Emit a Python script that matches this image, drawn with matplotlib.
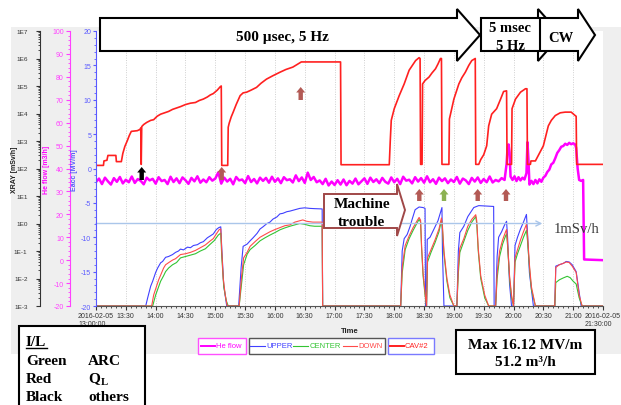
import numpy as np
import matplotlib
matplotlib.use('Agg')
import matplotlib.pyplot as plt
import matplotlib.dates as mdates
from matplotlib.patches import Polygon, Rectangle
from matplotlib.lines import Line2D
from matplotlib.ticker import MultipleLocator, LogLocator, NullFormatter

plt.rcParams['font.family'] = ['Liberation Sans', 'DejaVu Sans']

# ---------------- data ----------------
start_time = '2016-02-05T13:00'
span_minutes = 510

xtick_minutes = list(range(0, 511, 30))
xtick_labels = ['2016-02-05\n13:00:00', '13:30', '14:00', '14:30', '15:00', '15:30', '16:00',
                '16:30', '17:00', '17:30', '18:00', '18:30', '19:00', '19:30', '20:00', '20:30',
                '21:00', '2016-02-05\n21:30:00']

xray_ticks = [1e-3, 1e-2, 1e-1, 1e0, 1e1, 1e2, 1e3, 1e4, 1e5, 1e6, 1e7]
xray_tick_labels = ['1E-3', '1E-2', '1E-1', '1E0', '1E1', '1E2', '1E3', '1E4', '1E5', '1E6', '1E7']
he_ticks = list(range(-20, 101, 10))
eacc_ticks = list(range(-20, 21, 5))

# CAV#2 accelerating field (minutes after 13:00, MV/m)
cav2_eacc = [(0, 0.45), (7.5, 0.45), (8, 1.1), (11, 1.2), (12, 1.9), (20, 1.9), (20.5, 1.0), (25.5, 1.0),
             (27, 2.2), (29, 3.2), (31.5, 4.05), (33.5, 4.8), (35.5, 5.4), (41.5, 5.5), (44.5, 5.7),
             (45, 5.9), (45.5, 0.6), (46, 6.1), (48, 6.4), (51, 6.7), (55, 7.0), (58, 7.1), (61.5, 7.6),
             (65, 7.9), (69, 8.1), (73, 8.3), (77, 8.6), (81, 8.8), (85, 9.0), (90, 9.3), (95, 9.5),
             (100, 9.6), (104, 9.9), (108, 10.1), (112, 10.4), (115, 10.7), (118, 10.9), (122, 11.4),
             (125, 11.9), (126, 12.0), (126.5, 0.45), (132.5, 0.45), (133, 6.0), (134, 6.6), (136, 7.5),
             (138, 8.2), (141, 9.3), (145, 10.6), (148, 11.0), (151.5, 11.1), (156, 11.4), (161.5, 11.8),
             (166, 12.4), (171.5, 13.0), (178, 13.5), (185, 14.0), (191, 14.4), (198, 14.75), (202, 15.1),
             (206.5, 15.5), (246, 15.5), (246.5, 0.55), (295, 0.55), (296, 4.0), (297, 7.0), (300, 8.7),
             (305, 10.6), (310, 12.3), (315, 14.3), (321.5, 15.7), (325, 16.12), (326, 16.0), (326.5, 0.6),
             (328, 0.6), (328.5, 12.3), (331, 12.8), (335, 13.3), (338, 13.9), (341.5, 14.5), (344, 15.2),
             (346.5, 16.0), (347.5, 16.0), (348, 0.6), (355, 0.6), (355.5, 7.2), (358, 8.8), (360, 10.1),
             (365, 12.3), (368, 13.2), (371.5, 14.0), (375, 15.0), (378, 15.7), (381.5, 16.0), (382, 0.6),
             (385, 0.6), (387, 1.3), (390, 2.0), (393, 3.3), (395, 6.2), (398, 7.9), (403, 8.7), (407, 10.1),
             (410, 11.2), (413, 11.3), (413.5, 0.6), (418, 0.6), (418.5, 8.7), (422, 10.1), (427, 11.1),
             (432, 11.6), (433.5, 11.6), (434, 0.6), (437, 0.6), (437.5, 1.1), (442, 1.1), (446, 2.2),
             (450, 3.3), (455, 6.2), (458, 7.0), (462, 7.7), (467, 8.1), (472, 8.2), (478, 8.2), (482, 7.7),
             (483, 7.6), (483.5, 0.6), (510, 0.6)]

# He flow (m3/h): 3-minute readings 13:00-19:48, then individual readings
he_flow_3min = [
    34.1, 35.6, 33.2, 36.0, 34.4, 33.0, 35.8, 34.2, 36.3, 33.5, 35.1, 34.0, 36.5, 33.7, 35.4, 34.6, 33.1, 36.0, 34.8, 35.5,
    33.4, 36.2, 34.5, 35.0, 33.2, 36.4, 34.1, 35.7, 33.6, 36.1, 34.9, 33.3, 35.9, 34.4, 36.6, 33.8, 35.2, 34.0, 36.2, 34.7,
    35.6, 38.3, 33.4, 36.0, 34.3, 35.5, 33.1, 36.3, 34.8, 35.2, 33.6, 36.7, 34.1, 35.4, 33.5, 36.0, 34.6, 35.9, 33.8, 36.4,
    34.2, 35.7, 33.6, 36.2, 34.9, 35.3, 33.9, 37.0, 34.5, 36.1, 33.7, 38.2, 35.0, 36.3, 34.0, 34.8, 33.2, 35.5, 32.6, 34.3,
    32.8, 34.9, 33.0, 35.2, 32.7, 34.6, 33.4, 35.6, 33.1, 34.4, 35.7, 33.3, 36.0, 34.1, 35.3, 33.6, 35.9, 34.2, 33.4, 36.1,
    34.0, 35.5, 33.2, 36.4, 34.7, 35.1, 33.5, 36.2, 34.3, 35.8, 33.8, 36.6, 34.0, 35.3, 33.3, 36.0, 34.5, 35.7, 33.6, 35.2,
    34.1, 36.3, 33.4, 35.6, 34.8, 33.2, 35.9, 34.3, 36.1, 33.7, 35.4, 34.0, 36.5, 33.9, 35.0, 34.4, 35.8]
he_flow_late = [(411, 35.0), (413, 42), (414, 49), (415, 50.5), (416, 47), (417, 36.5), (419, 35.0), (421, 36.6),
                (423, 34.5), (425, 36.2), (427, 34.8), (429, 36.0), (431, 35.2), (433, 38.0), (434, 51.5),
                (435, 44), (436, 33.0), (438, 34.6), (440, 33.2), (442, 35.0), (444, 33.5), (446, 35.3),
                (448, 34.2), (450, 36.0), (452, 36.8), (454, 38.5), (456, 39.5), (458, 41.8), (460, 42.5),
                (462, 44.5), (464, 46.8), (466, 48.0), (468, 49.5), (470, 49.8), (472, 50.8), (474, 50.3),
                (476, 51.2), (478, 50.6), (480, 51.0), (482, 50.5), (483, 49), (484.5, 40), (486, 35),
                (488, 34.6), (490, 35.0), (491, 0.3), (510, 0.0)]

# X-ray detectors, log10(mSv/h)
xray_upper = [(0, -3), (50, -3), (52, -2.7), (55, -2.28), (57, -2.1), (60, -1.78), (62, -1.62), (65, -1.43),
              (67, -1.38), (70, -1.23), (73, -1.2), (77, -1.13), (80, -1.05), (83, -1.0), (85, -0.93),
              (88, -0.96), (92, -0.86), (95, -0.88), (98, -0.8), (102, -0.77), (105, -0.7), (108, -0.66),
              (112, -0.52), (115, -0.45), (118, -0.38), (121, -0.22), (123.5, -0.15), (125.5, -0.12),
              (126.5, -0.9), (128.5, -2.25), (131.5, -3), (143.5, -3), (146, -1.6), (148, -0.83),
              (152, -0.75), (155, -0.63), (158, -0.52), (162, -0.36), (165, -0.2), (168, -0.12), (172, 0.0),
              (175, 0.05), (178, 0.16), (182, 0.24), (185, 0.35), (188, 0.37), (192, 0.43), (195, 0.45),
              (200, 0.5), (205, 0.55), (210, 0.57), (215, 0.55), (220, 0.54), (227.5, 0.53), (228, -3),
              (306.5, -3), (308, -1.0), (310, -0.55), (313, -0.4), (316, -0.1), (318, 0.15), (321, 0.5),
              (325, 0.6), (329, 0.58), (331, 0.55), (331.5, -3),
              (332.5, -3), (333.2, -0.58), (336, -0.5), (340, -0.2), (344, 0.1), (348, 0.58), (348.5, -1.0),
              (350, -3),
              (363, -3), (364.5, -1.0), (366, -0.33), (370, -0.1), (374, 0.25), (380, 0.58), (385, 0.65),
              (395, 0.63), (400, 0.62), (400.5, -3),
              (402, -3), (403.5, -1.2), (405, -0.5), (408, -0.3), (411, -0.05), (413, 0.08), (414, -0.5),
              (416, -2.2), (418, -3),
              (420, -3), (421.5, -0.8), (424, -0.5), (427, -0.2), (430, 0.05), (433, 0.33), (434, -0.3),
              (436, -1.8), (440, -3),
              (461.5, -3), (462.5, -1.55), (466, -1.5), (470, -1.45), (473, -1.38), (476, -1.4), (479, -1.5),
              (483, -1.75), (486, -2.5), (488, -3), (510, -3)]
xray_center = [(0, -3), (57, -3), (60, -2.6), (63, -2.3), (65, -2.1), (68, -1.9), (70, -1.75), (73, -1.62),
               (77, -1.5), (81, -1.42), (85, -1.25), (90, -1.2), (95, -1.15), (100, -1.1), (105, -1.0),
               (110, -0.92), (115, -0.75), (119, -0.62), (123, -0.42), (125.5, -0.35), (126.5, -1.2),
               (128.5, -2.3), (131, -2.8), (133, -3),
               (144, -3), (147, -2.0), (148.5, -1.5), (152, -1.12), (155, -0.95), (160, -0.8), (165, -0.63),
               (170, -0.52), (175, -0.42), (180, -0.33), (185, -0.23), (190, -0.16), (195, -0.1), (200, -0.05),
               (205, 0.0), (210, -0.03), (215, -0.08), (220, -0.1), (227.5, -0.1), (228, -3),
               (306.5, -3), (308, -1.8), (311, -0.95), (315, -0.55), (319, -0.25), (323, 0.02), (325, 0.15),
               (326.5, 0.05), (327.5, -0.9), (329, -1.9), (331, -2.6), (332.5, -3),
               (333.5, -1.4), (337, -1.05), (341, -0.7), (345, -0.3), (347.5, 0.12), (348.5, -0.2),
               (350, -1.1), (353, -2.1), (356, -2.7), (360, -3),
               (363, -3), (364.5, -1.8), (366, -1.05), (370, -0.65), (374, -0.25), (378, 0.05), (382, 0.25),
               (383, 0.0), (384.5, -1.0), (387, -2.0), (391, -2.7), (395, -3),
               (402, -3), (403.5, -2.0), (406, -1.2), (409, -0.75), (412, -0.45), (413, -0.38), (414, -0.8),
               (416, -2.0), (418, -2.7), (420, -3),
               (421.5, -1.4), (424, -1.1), (427, -0.8), (430, -0.5), (433, -0.25), (434, -0.6), (436, -1.6),
               (438, -2.4), (442, -3),
               (461.5, -3), (462.5, -2.15), (466, -2.05), (470, -1.98), (474, -1.92), (477, -1.97),
               (480, -2.1), (483, -2.2), (486, -2.7), (489, -3), (510, -3)]
xray_down = [(0, -3), (56, -3), (58, -2.6), (60, -2.38), (63, -2.05), (65, -1.88), (68, -1.62), (70, -1.5),
             (74, -1.4), (77, -1.33), (80, -1.28), (85, -1.13), (90, -1.1), (95, -1.05), (100, -0.98),
             (105, -0.88), (110, -0.78), (115, -0.63), (118, -0.55), (121, -0.38), (124, -0.22),
             (125.5, -0.2), (126.5, -1.0), (128, -2.0), (130, -2.6), (132, -3),
             (144, -3), (146.5, -1.9), (148.5, -1.25), (152, -1.05), (155, -0.83), (160, -0.66), (165, -0.5),
             (170, -0.4), (175, -0.3), (180, -0.22), (185, -0.15), (190, -0.08), (195, -0.05), (200, 0.05),
             (205, 0.1), (208, 0.13), (212, 0.08), (218, 0.05), (227.5, 0.05), (228, -3),
             (306.5, -3), (308, -1.6), (311, -0.8), (315, -0.45), (319, -0.15), (323, 0.1), (325, 0.22),
             (326.5, 0.12), (327.5, -0.8), (329, -1.8), (331, -2.5), (332.5, -3),
             (333.5, -1.25), (337, -0.95), (341, -0.6), (345, -0.2), (347.5, 0.2), (348.5, -0.1),
             (350, -1.0), (353, -2.0), (356, -2.6), (360, -3),
             (363, -3), (364.5, -1.6), (366, -0.9), (370, -0.55), (374, -0.1), (378, 0.15), (382, 0.32),
             (383, 0.1), (384.5, -0.9), (387, -1.9), (391, -2.6), (395, -3),
             (402, -3), (403.5, -1.8), (406, -1.0), (409, -0.6), (412, -0.3), (413, -0.22), (414, -0.7),
             (416, -1.9), (418, -2.6), (420, -3),
             (421.5, -1.25), (424, -0.95), (427, -0.6), (430, -0.3), (433, -0.03), (434, -0.4), (436, -1.5),
             (438, -2.3), (442, -3),
             (461.5, -3), (462.5, -1.6), (466, -1.5), (470, -1.45), (473, -1.4), (476, -1.42), (479, -1.55),
             (483, -1.78), (486, -2.6), (489, -3), (510, -3)]

limit_line_msvh = 1.0
limit_line_end_min = 449

# ---------------- helpers ----------------
W, H = 621, 406


def fx(x):
    return x / W


def fy(y):
    return 1 - y / H


def to_num(mins):
    t = np.datetime64(start_time) + (np.asarray(mins, float) * 60).astype('timedelta64[s]')
    return mdates.date2num(t)


def split(pairs):
    a = np.array(pairs, float)
    return a[:, 0], a[:, 1]


C_CAV = '#ff2020'
C_HE = '#ff00ff'
C_UP = '#4040ff'
C_CEN = '#33c433'
C_DOWN = '#ff4a4a'
C_EAXIS = '#5a5aff'
C_HEAXIS = '#ff40ff'
TICKFONT = ['Liberation Sans Narrow', 'Liberation Sans', 'DejaVu Sans']

fig = plt.figure(figsize=(W / 100, H / 100), dpi=100)
fig.add_artist(Rectangle((fx(11), fy(355)), fx(621) - fx(11), fy(28) - fy(355), transform=fig.transFigure,
                         facecolor='#efefef', edgecolor='none', zorder=-10))

rect = [fx(96), fy(307), fx(603) - fx(96), fy(32) - fy(307)]
ax_x = fig.add_axes(rect)
ax_he = fig.add_axes(rect, sharex=ax_x)
ax_e = fig.add_axes(rect, sharex=ax_x)
ax_x.set_facecolor('white')
for a in (ax_he, ax_e):
    a.patch.set_visible(False)

# X-ray curves
for pairs, col in ((xray_upper, C_UP), (xray_center, C_CEN), (xray_down, C_DOWN)):
    t, v = split(pairs)
    ax_x.plot(to_num(t), 10.0 ** v, color=col, lw=0.8)
ax_x.annotate('', xy=(to_num(limit_line_end_min), limit_line_msvh), xytext=(to_num(0), limit_line_msvh),
              arrowprops=dict(arrowstyle='->', color='#aac6ea', lw=1.0, shrinkA=0, shrinkB=0,
                              mutation_scale=9))
ax_x.set_yscale('log')
ax_x.set_ylim(1e-3, 1e7)
ax_x.set_xlim(to_num(0), to_num(span_minutes))

# He flow
t_he = np.arange(len(he_flow_3min)) * 3
t_late, v_late = split(he_flow_late)
ax_he.plot(to_num(np.concatenate([t_he, t_late])), np.concatenate([he_flow_3min, v_late]),
           color=C_HE, lw=1.8)
ax_he.set_ylim(-20, 100)

# CAV#2
t_c, v_c = split(cav2_eacc)
ax_e.plot(to_num(t_c), v_c, color=C_CAV, lw=1.2)
ax_e.set_ylim(-20, 20)

# ---- axis styling ----
for a in (ax_x, ax_he, ax_e):
    a.spines['top'].set_visible(False)
    a.spines['right'].set_visible(False)
for a in (ax_he, ax_e):
    a.spines['bottom'].set_visible(False)
    a.tick_params(axis='x', which='both', bottom=False, labelbottom=False)

ax_x.spines['left'].set_position(('outward', 56 * 0.72))
ax_x.spines['left'].set_color('#333333')
ax_x.spines['bottom'].set_color('#555555')
ax_x.set_yticks(xray_ticks)
ax_x.set_yticklabels(xray_tick_labels, family=TICKFONT)
ax_x.yaxis.set_minor_locator(LogLocator(base=10, subs=np.arange(2, 10), numticks=20))
ax_x.yaxis.set_minor_formatter(NullFormatter())
ax_x.tick_params(axis='y', which='major', length=3, pad=6.0, labelsize=4.6, colors='#333333')
ax_x.tick_params(axis='y', which='minor', length=1.6, colors='#333333')

ax_x.set_xticks(to_num(xtick_minutes))
ax_x.set_xticklabels(xtick_labels, family=TICKFONT)
ax_x.xaxis.set_minor_locator(matplotlib.ticker.FixedLocator(to_num(np.arange(0, 511, 5))))
ax_x.tick_params(axis='x', which='major', length=3, pad=1.5, labelsize=5, colors='#333333')
ax_x.tick_params(axis='x', which='minor', length=1.5, colors='#333333')
for lab in ax_x.get_xticklabels():
    lab.set_multialignment('left')
ax_x.grid(axis='x', which='major', color='#cfcfcf', linestyle=(0, (1, 1.5)), lw=0.7)

ax_he.spines['left'].set_position(('outward', 26 * 0.72))
ax_he.spines['left'].set_color(C_HEAXIS)
ax_he.set_yticks(he_ticks)
ax_he.set_yticklabels([str(v) for v in he_ticks], family=TICKFONT)
ax_he.yaxis.set_minor_locator(MultipleLocator(2))
ax_he.tick_params(axis='y', which='major', length=3, pad=1.5, labelsize=5, colors=C_HEAXIS)
ax_he.tick_params(axis='y', which='minor', length=1.6, colors=C_HEAXIS)

ax_e.spines['left'].set_color(C_EAXIS)
ax_e.set_yticks(eacc_ticks)
ax_e.set_yticklabels([str(v) for v in eacc_ticks], family=TICKFONT)
ax_e.yaxis.set_minor_locator(MultipleLocator(1))
ax_e.tick_params(axis='y', which='major', length=2.5, pad=1, labelsize=5, colors=C_EAXIS)
ax_e.tick_params(axis='y', which='minor', length=1.5, colors=C_EAXIS)

fig.text(fx(14), fy(170), 'XRAY [mSv/h]', rotation=90, ha='center', va='center', fontsize=5,
         fontweight='bold', color='#222222')
fig.text(fx(47), fy(170), 'He flow [m3/h]', rotation=90, ha='center', va='center', fontsize=5,
         fontweight='bold', color=C_HE)
fig.text(fx(75), fy(170), 'Eacc [MV/m]', rotation=90, ha='center', va='center', fontsize=5,
         fontweight='bold', color=C_EAXIS)
fig.text(fx(350), fy(332), 'Time', ha='center', va='center', fontsize=5.5, fontweight='bold', color='#222222')

# ---- legend ----
def box(x0, y0, x1, y1, ec, lw=1.0, fc='white', z=5):
    fig.add_artist(Rectangle((fx(x0), fy(y1)), fx(x1) - fx(x0), fy(y0) - fy(y1), transform=fig.transFigure,
                             facecolor=fc, edgecolor=ec, lw=lw, zorder=z))


def leg_item(x0, x1, y, col, lw, text, tx, tcol):
    fig.add_artist(Line2D([fx(x0), fx(x1)], [fy(y), fy(y)], transform=fig.transFigure, color=col, lw=lw,
                          zorder=6))
    fig.text(fx(tx), fy(y), text, color=tcol, fontsize=5.5, ha='left', va='center', zorder=6)


box(198.5, 338.5, 246.5, 355, '#ff50ff')
box(248.5, 338.5, 385, 355, '#555555')
box(387.5, 338.5, 434, 355, '#7a7aff')
leg_item(200.5, 215, 347, C_HE, 1.4, 'He flow', 216, C_HE)
leg_item(250, 265, 347, C_UP, 0.8, 'UPPER', 266, C_UP)
leg_item(293, 308, 347, C_CEN, 0.8, 'CENTER', 309.5, C_CEN)
leg_item(342.5, 357, 347, C_DOWN, 0.8, 'DOWN', 358, C_DOWN)
leg_item(389.5, 404, 347, C_CAV, 1.4, 'CAV#2', 405, C_CAV)

# ---- annotations ----
serif = ['Liberation Serif', 'DejaVu Serif']


def poly(pts, fc='white', ec='black', lw=1.5, z=7):
    fig.add_artist(Polygon([(fx(x), fy(y)) for x, y in pts], closed=True, transform=fig.transFigure,
                           facecolor=fc, edgecolor=ec, lw=lw, zorder=z, joinstyle='miter'))


def block_arrow(x0, xh, xt, yt, yb, yht, yhb, **kw):
    ym = (yht + yhb) / 2
    poly([(x0, yt), (xh, yt), (xh, yht), (xt, ym), (xh, yhb), (xh, yb), (x0, yb)], **kw)


block_arrow(100, 457, 480, 19, 52, 10, 62, z=7)
block_arrow(481, 538, 561, 19, 52, 10, 62, z=8)
block_arrow(540, 578, 595, 19, 52, 10, 62, z=9)
fig.text(fx(282), fy(41.5), '500 µsec, 5 Hz', ha='center', va='baseline', fontsize=11, fontweight='bold',
         family=serif, zorder=10)
fig.text(fx(510), fy(32), '5 msec', ha='center', va='baseline', fontsize=10.5, fontweight='bold',
         family=serif, zorder=10)
fig.text(fx(510), fy(50.5), '5 Hz', ha='center', va='baseline', fontsize=10.5, fontweight='bold',
         family=serif, zorder=10)
fig.text(fx(561), fy(41.5), 'CW', ha='center', va='baseline', fontsize=10.5, fontweight='bold',
         family=serif, zorder=10)

block_arrow(324, 397, 405, 195, 229, 185, 237, ec='#a04848', lw=1.4, z=7)
fig.text(fx(362), fy(208.5), 'Machine', ha='center', va='baseline', fontsize=11, fontweight='bold',
         family=serif, zorder=10)
fig.text(fx(361), fy(226), 'trouble', ha='center', va='baseline', fontsize=11, fontweight='bold',
         family=serif, zorder=10)

fig.text(fx(577), fy(233), '1mSv/h', ha='center', va='baseline', fontsize=10.5, family=serif,
         color='#3a3a3a', zorder=10)

BROWN = '#b35a55'
GREENA = '#8cb152'
up_arrows = [(141.7, 168, 181, 'black'), (221.7, 168, 181, BROWN), (300.7, 88, 101, BROWN),
             (419.3, 190, 202, BROWN), (444, 190, 202, GREENA), (477.7, 190, 202, BROWN),
             (506, 190, 202, BROWN)]
for xc, yt, yb, col in up_arrows:
    poly([(xc - 2.2, yb), (xc - 2.2, yt + 5.5), (xc - 4.5, yt + 5.5), (xc, yt), (xc + 4.5, yt + 5.5),
          (xc + 2.2, yt + 5.5), (xc + 2.2, yb)], fc=col, ec='none', lw=0, z=10)

# I/L box
box(19, 327, 145, 430, 'black', lw=1.5, z=7)
fig.text(fx(26), fy(346.5), 'I/L', ha='left', va='baseline', fontsize=11, fontweight='bold', family=serif,
         zorder=10)
fig.add_artist(Line2D([fx(26), fx(47)], [fy(348.5), fy(348.5)], transform=fig.transFigure, color='black',
                      lw=1.0, zorder=10))
for yb, left, right in ((365, 'Green', 'ARC'), (383.5, 'Red', r'Q$_\mathregular{L}$'), (401.5, 'Black', 'others')):
    fig.text(fx(26), fy(yb), left, ha='left', va='baseline', fontsize=11, fontweight='bold', family=serif,
             zorder=10)
    fig.text(fx(88), fy(yb), right, ha='left', va='baseline', fontsize=11, fontweight='bold', family=serif,
             zorder=10)

# Max box
box(456, 331, 595, 375, 'black', lw=1.5, z=7)
fig.text(fx(525.5), fy(349.5), 'Max 16.12 MV/m', ha='center', va='baseline', fontsize=11, fontweight='bold',
         family=serif, zorder=10)
fig.text(fx(525.5), fy(366), '51.2 m³/h', ha='center', va='baseline', fontsize=11, fontweight='bold',
         family=serif, zorder=10)

fig.savefig('out.png', dpi=100)
